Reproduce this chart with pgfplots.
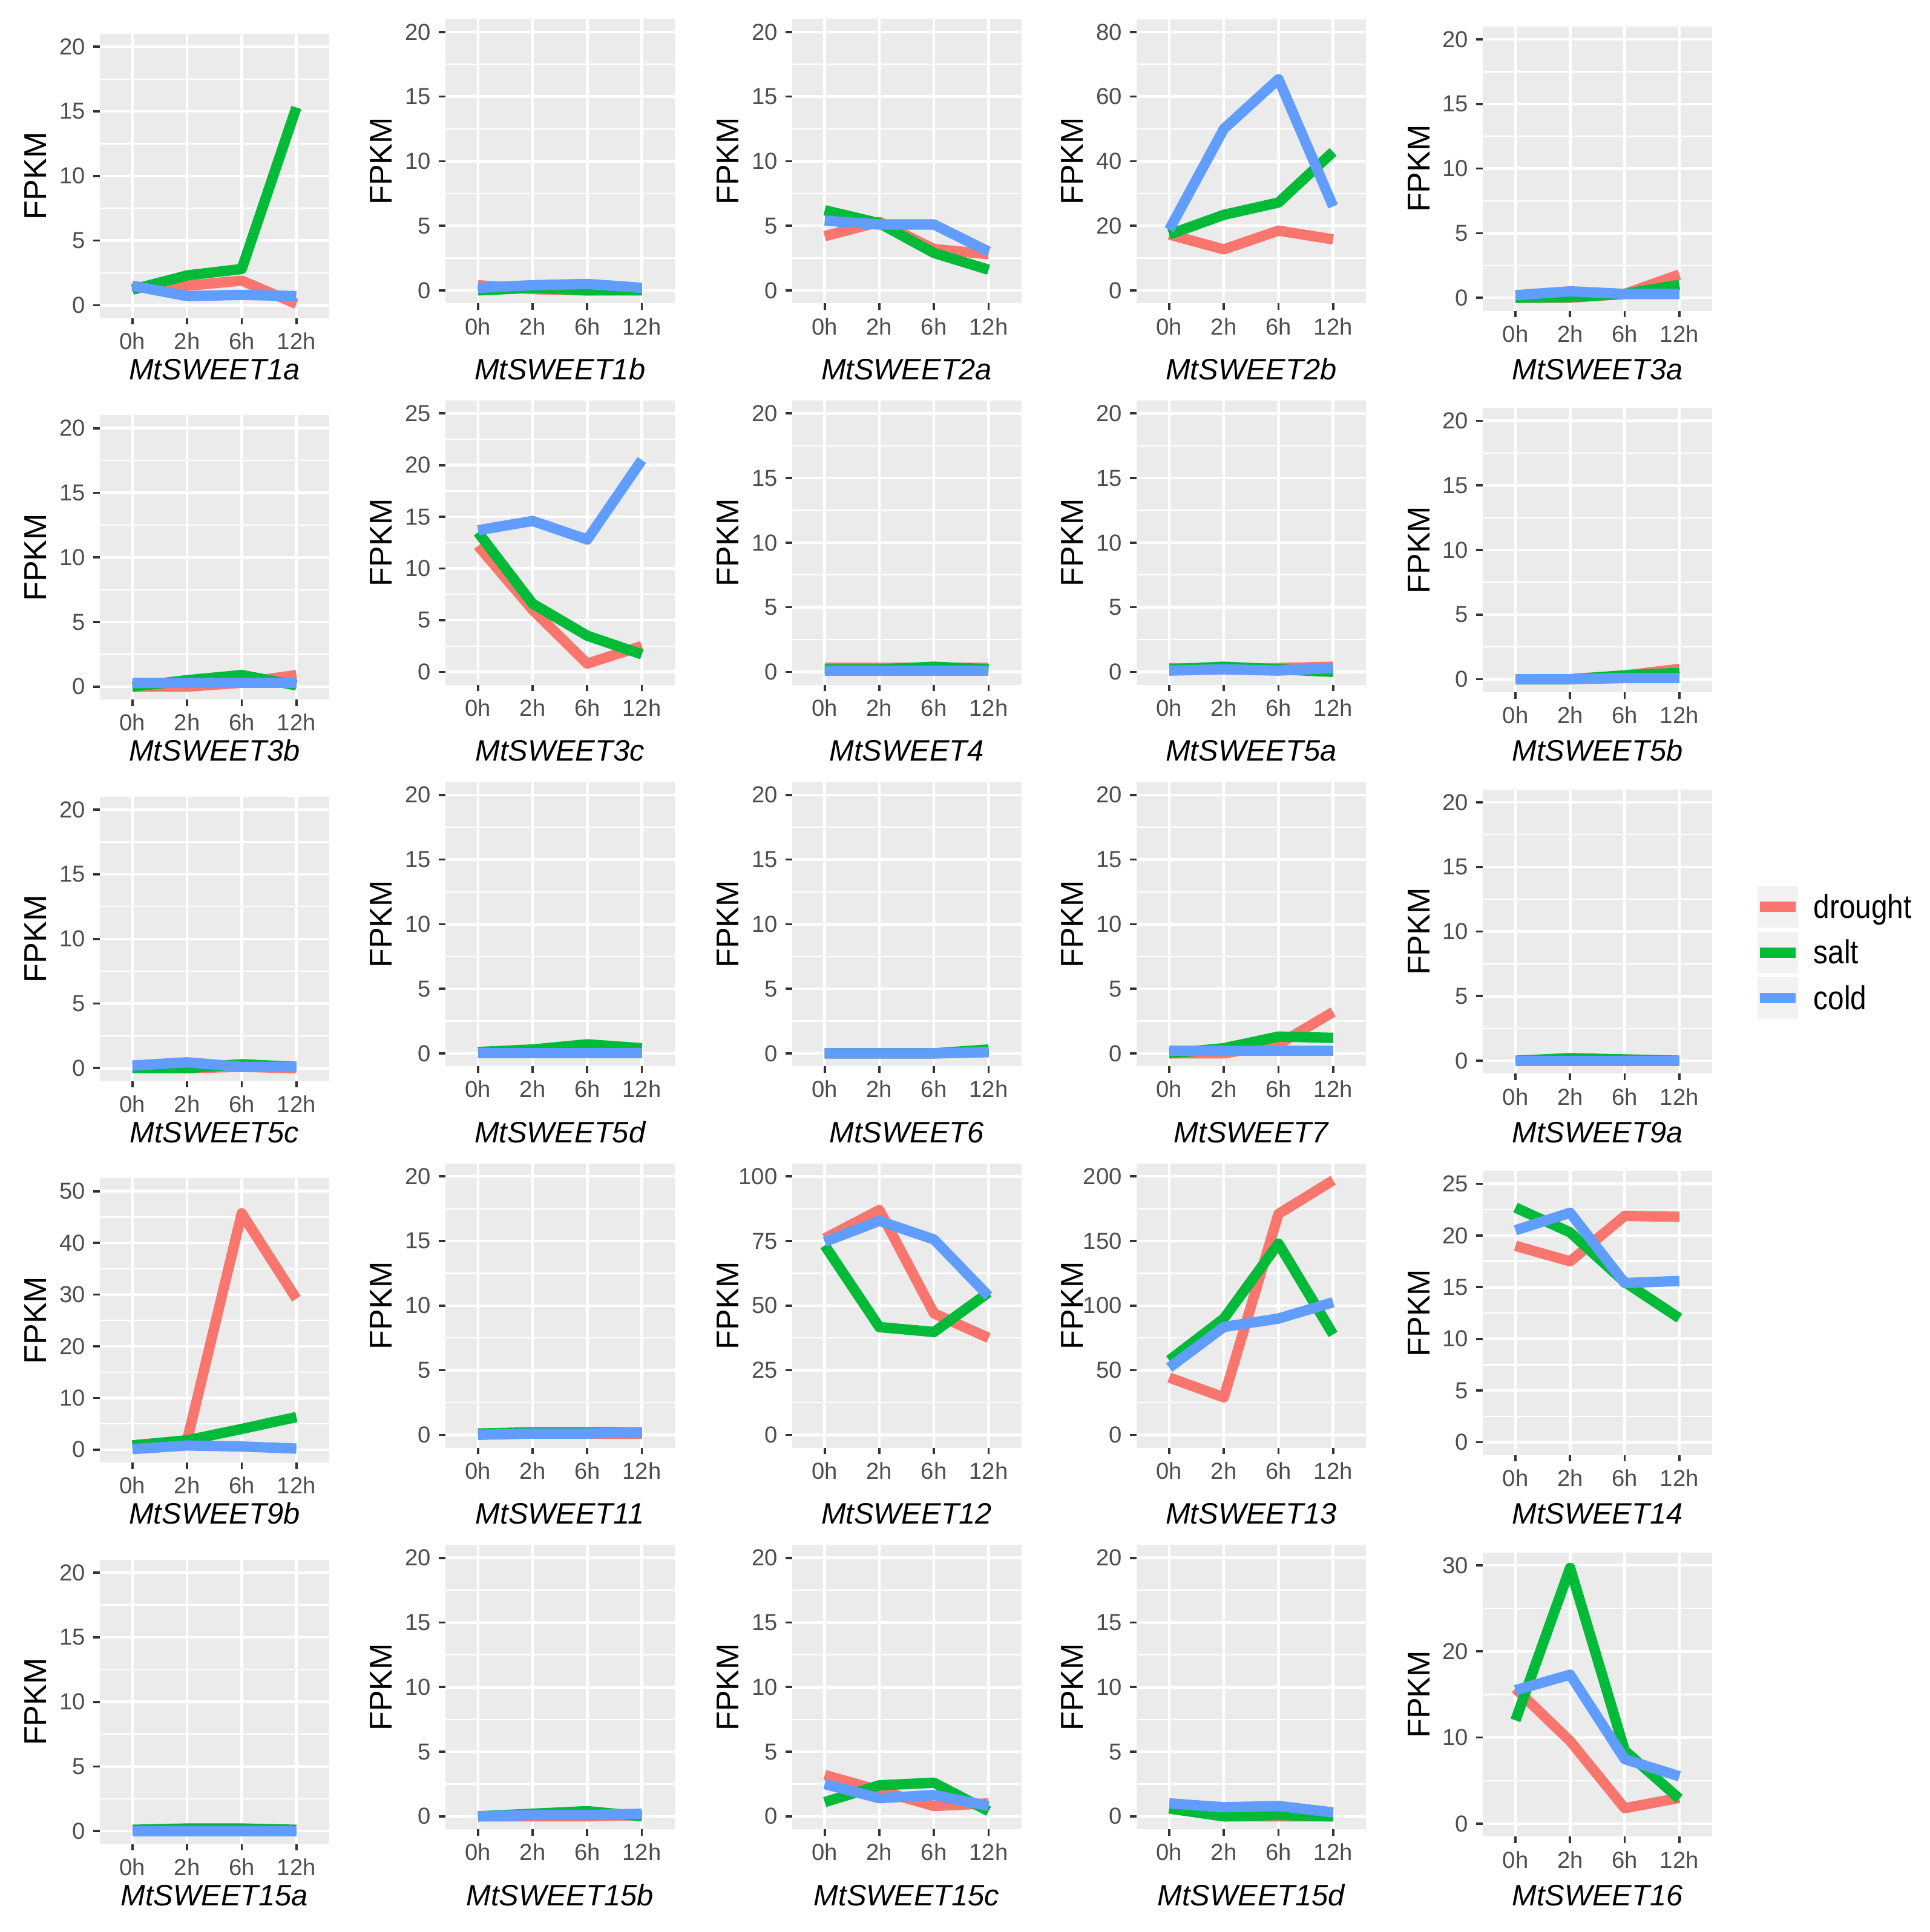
\documentclass[border=0pt]{standalone}
\usepackage{pgfplots}
\pgfplotsset{compat=1.18}
\usepackage{fontspec}
\setmainfont{Liberation Sans}
\newfontfamily\nfont[FakeStretch=0.87]{Liberation Sans}
\definecolor{cD}{HTML}{F8766D}
\definecolor{cS}{HTML}{00BA38}
\definecolor{cC}{HTML}{619CFF}
\definecolor{ggbg}{HTML}{EBEBEB}
\definecolor{ggtick}{HTML}{333333}
\definecolor{ggtext}{HTML}{4D4D4D}
\definecolor{ggkey}{HTML}{F2F2F2}

\pgfplotsset{ggpanel/.style={
  scale only axis, width=93.2pt, height=115.5pt, anchor=south west,
  xmin=-0.6, xmax=3.6, xtick={0,1,2,3}, xticklabels={0h,2h,6h,12h},
  axis background/.style={fill=ggbg},
  axis line style={draw=none},
  tick pos=left, tick align=outside,
  major tick length=2.6pt,
  every tick/.style={draw=ggtick, line width=0.9pt},
  minor tick length=0pt,
  xmajorgrids, ymajorgrids, yminorgrids,
  major grid style={draw=white, line width=1.1pt},
  minor grid style={draw=white, line width=0.55pt},
  minor y tick num=1,
  /pgf/number format/assume math mode=true,
  tick label style={font=\fontsize{9.4}{10}\selectfont, text=ggtext, inner sep=0pt},
  xticklabel style={yshift=-3.1pt},
  yticklabel style={xshift=-3.1pt},
  ylabel={FPKM},
  every axis y label/.style={at={(axis description cs:0,0.5)}, xshift=-26pt, rotate=90, anchor=center, font=\fontsize{12.8}{15}\selectfont},
  every axis x label/.style={at={(axis description cs:0.5,0)}, anchor=base, font=\itshape\fontsize{12}{14}\selectfont},
  every axis plot/.append style={line width=4.2pt, line join=round, line cap=butt, mark=none},
}}

% #1 col, #2 row, #3 name, #4 top tick, #5 step, #6 drought, #7 salt, #8 cold
\newcommand\panel[8]{%
  \ifcase#1\or\def\px{40.5}\def\pb{655.75}\def\xly{25}%
  \or\def\px{180.85}\def\pb{661.75}\def\xly{31}%
  \or\def\px{321.7}\def\pb{661.75}\def\xly{31}%
  \or\def\px{461.65}\def\pb{661.75}\def\xly{31}%
  \or\def\px{602.3}\def\pb{658.75}\def\xly{28}\fi
  \pgfmathsetmacro\py{\pb-155*(#2-1)}%
  \pgfmathsetmacro\ylo{-0.05*#4}%
  \pgfmathsetmacro\yhi{1.05*#4}%
  \begin{axis}[ggpanel, at={(\px pt,\py pt)}, ymin=\ylo, ymax=\yhi,
    ytick={0,#5,...,#4}, xlabel={#3}, xlabel style={yshift=-\xly pt}]
    \addplot[cD] coordinates {#6};
    \addplot[cS] coordinates {#7};
    \addplot[cC] coordinates {#8};
  \end{axis}}

\begin{document}
\begin{tikzpicture}
\useasboundingbox (0,0) rectangle (784pt,785pt);
% row 1
\panel{1}{1}{MtSWEET1a}{20}{5}{(0,1.4)(1,1.5)(2,1.9)(3,0.1)}{(0,1.2)(1,2.3)(2,2.8)(3,15.3)}{(0,1.5)(1,0.7)(2,0.8)(3,0.7)}
\panel{2}{1}{MtSWEET1b}{20}{5}{(0,0.4)(1,0.1)(2,0.0)(3,0.1)}{(0,0.0)(1,0.2)(2,0.0)(3,0.0)}{(0,0.2)(1,0.4)(2,0.5)(3,0.2)}
\panel{3}{1}{MtSWEET2a}{20}{5}{(0,4.2)(1,5.3)(2,3.2)(3,2.8)}{(0,6.2)(1,5.2)(2,2.9)(3,1.6)}{(0,5.4)(1,5.1)(2,5.1)(3,3.0)}
\panel{4}{1}{MtSWEET2b}{80}{20}{(0,17.3)(1,12.7)(2,18.5)(3,15.8)}{(0,17.3)(1,23.4)(2,27.2)(3,42.9)}{(0,18.8)(1,50)(2,65.4)(3,26)}
\panel{5}{1}{MtSWEET3a}{20}{5}{(0,0.0)(1,0.0)(2,0.3)(3,1.8)}{(0,0.0)(1,0.05)(2,0.3)(3,1.0)}{(0,0.2)(1,0.5)(2,0.3)(3,0.3)}
% row 2
\panel{1}{2}{MtSWEET3b}{20}{5}{(0,0.0)(1,0.0)(2,0.3)(3,0.9)}{(0,0.0)(1,0.5)(2,0.9)(3,0.1)}{(0,0.3)(1,0.3)(2,0.3)(3,0.3)}
\panel{2}{2}{MtSWEET3c}{25}{5}{(0,12.2)(1,6.0)(2,0.8)(3,2.5)}{(0,13.5)(1,6.6)(2,3.5)(3,1.7)}{(0,13.7)(1,14.6)(2,12.8)(3,20.5)}
\panel{3}{2}{MtSWEET4}{20}{5}{(0,0.3)(1,0.3)(2,0.3)(3,0.3)}{(0,0.2)(1,0.2)(2,0.4)(3,0.2)}{(0,0.1)(1,0.1)(2,0.1)(3,0.1)}
\panel{4}{2}{MtSWEET5a}{20}{5}{(0,0.3)(1,0.2)(2,0.3)(3,0.4)}{(0,0.2)(1,0.4)(2,0.2)(3,0.0)}{(0,0.1)(1,0.2)(2,0.1)(3,0.3)}
\panel{5}{2}{MtSWEET5b}{20}{5}{(0,0.0)(1,0.0)(2,0.3)(3,0.8)}{(0,0.0)(1,0.0)(2,0.3)(3,0.5)}{(0,0.0)(1,0.0)(2,0.1)(3,0.1)}
% row 3
\panel{1}{3}{MtSWEET5c}{20}{5}{(0,0.0)(1,0.0)(2,0.1)(3,0.0)}{(0,0.05)(1,0.0)(2,0.3)(3,0.1)}{(0,0.2)(1,0.45)(2,0.1)(3,0.1)}
\panel{2}{3}{MtSWEET5d}{20}{5}{(0,0.1)(1,0.1)(2,0.1)(3,0.1)}{(0,0.1)(1,0.3)(2,0.7)(3,0.4)}{(0,0.0)(1,0.0)(2,0.0)(3,0.0)}
\panel{3}{3}{MtSWEET6}{20}{5}{(0,0.0)(1,0.0)(2,0.0)(3,0.1)}{(0,0.0)(1,0.0)(2,0.0)(3,0.3)}{(0,0.0)(1,0.0)(2,0.0)(3,0.1)}
\panel{4}{3}{MtSWEET7}{20}{5}{(0,0.0)(1,0.0)(2,0.7)(3,3.2)}{(0,0.0)(1,0.4)(2,1.3)(3,1.2)}{(0,0.2)(1,0.2)(2,0.2)(3,0.2)}
\panel{5}{3}{MtSWEET9a}{20}{5}{(0,0.0)(1,0.1)(2,0.1)(3,0.0)}{(0,0.0)(1,0.2)(2,0.1)(3,0.0)}{(0,0.0)(1,0.0)(2,0.0)(3,0.0)}
% row 4
\panel{1}{4}{MtSWEET9b}{50}{10}{(0,0.8)(1,1.8)(2,45.7)(3,29.2)}{(0,0.8)(1,1.8)(2,4.0)(3,6.3)}{(0,0.1)(1,0.8)(2,0.6)(3,0.2)}
\panel{2}{4}{MtSWEET11}{20}{5}{(0,0.1)(1,0.1)(2,0.1)(3,0.1)}{(0,0.1)(1,0.2)(2,0.2)(3,0.2)}{(0,0.0)(1,0.1)(2,0.1)(3,0.2)}
\panel{3}{4}{MtSWEET12}{100}{25}{(0,76)(1,87)(2,47)(3,37.5)}{(0,73.3)(1,41.7)(2,39.8)(3,55.1)}{(0,74.7)(1,82.8)(2,75.6)(3,53.7)}
\panel{4}{4}{MtSWEET13}{200}{50}{(0,44.3)(1,29)(2,171)(3,197)}{(0,57.7)(1,90)(2,148)(3,77.7)}{(0,52)(1,83.5)(2,90)(3,102.6)}
\panel{5}{4}{MtSWEET14}{25}{5}{(0,19)(1,17.5)(2,21.9)(3,21.8)}{(0,22.7)(1,20.3)(2,15.5)(3,12)}{(0,20.5)(1,22.2)(2,15.4)(3,15.6)}
% row 5
\panel{1}{5}{MtSWEET15a}{20}{5}{(0,0.1)(1,0.1)(2,0.1)(3,0.1)}{(0,0.1)(1,0.2)(2,0.2)(3,0.1)}{(0,0.0)(1,0.0)(2,0.0)(3,0.0)}
\panel{2}{5}{MtSWEET15b}{20}{5}{(0,0.0)(1,0.0)(2,0.0)(3,0.1)}{(0,0.0)(1,0.2)(2,0.4)(3,0.0)}{(0,0.0)(1,0.1)(2,0.1)(3,0.2)}
\panel{3}{5}{MtSWEET15c}{20}{5}{(0,3.2)(1,2.0)(2,0.8)(3,1.0)}{(0,1.1)(1,2.4)(2,2.6)(3,0.4)}{(0,2.5)(1,1.4)(2,1.65)(3,0.8)}
\panel{4}{5}{MtSWEET15d}{20}{5}{(0,0.7)(1,0.0)(2,0.0)(3,0.0)}{(0,0.6)(1,0.0)(2,0.1)(3,0.0)}{(0,1.0)(1,0.7)(2,0.8)(3,0.3)}
\panel{5}{5}{MtSWEET16}{30}{10}{(0,15.7)(1,9.6)(2,1.8)(3,3.0)}{(0,12)(1,29.7)(2,8.5)(3,2.9)}{(0,15.5)(1,17.3)(2,7.5)(3,5.5)}
% legend
\foreach \yc/\cc/\tt in {416.5/cD/drought, 398/cS/salt, 379.5/cC/cold}{
  \fill[ggkey] (714pt,\yc pt-8.5pt) rectangle (730.5pt,\yc pt+8.5pt);
  \draw[\cc, line width=4.2pt] (715pt,\yc pt) -- (729.5pt,\yc pt);
  \node[anchor=base west, inner sep=0pt, font=\nfont\fontsize{13.5}{16}\selectfont] at (736.5pt,\yc pt-4.6pt) {\tt};
}
\end{tikzpicture}
\end{document}
